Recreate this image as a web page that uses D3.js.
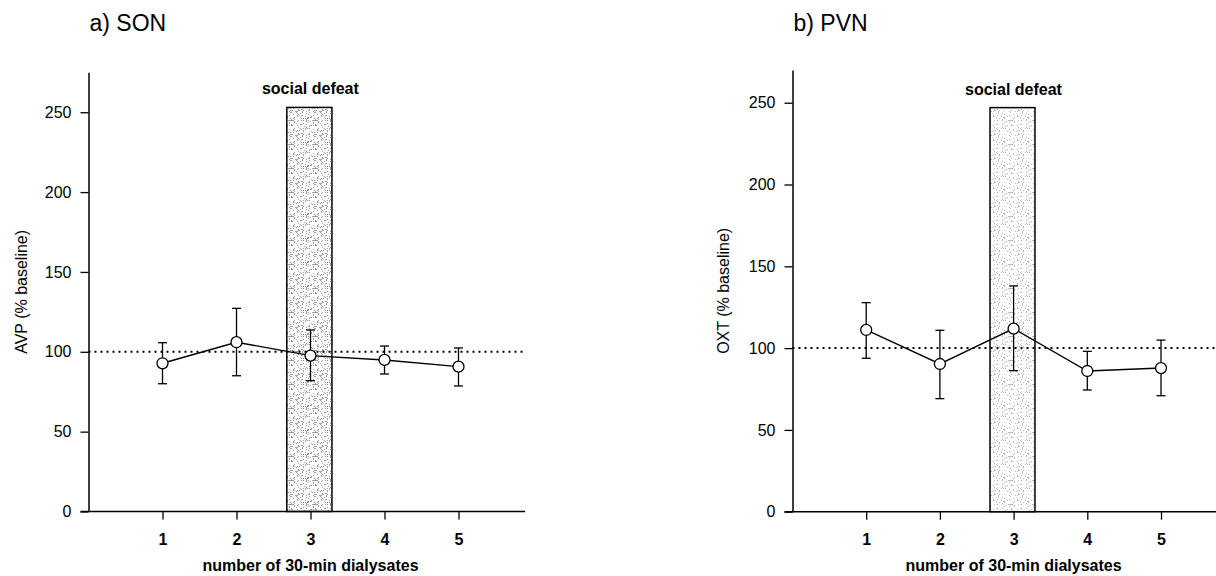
<!DOCTYPE html>
<html>
<head>
<meta charset="utf-8">
<script src="https://cdn.jsdelivr.net/npm/d3@7"></script>
<style>
  body { margin: 0; background: #fff; }
  svg { display: block; font-family: "Liberation Sans", Arial, sans-serif; }
</style>
</head>
<body>
<script>
// data
const dialysates = [1, 2, 3, 4, 5];
const avpMean = [92.8, 106.0, 97.6, 94.9, 90.7];
const avpUpper = [105.7, 127.2, 113.7, 103.6, 102.4];
const avpLower = [80.0, 85.0, 81.9, 86.1, 78.6];
const oxtMean = [111.1, 90.3, 111.9, 86.0, 87.8];
const oxtUpper = [127.8, 110.9, 138.0, 98.0, 104.9];
const oxtLower = [93.8, 69.1, 86.2, 74.4, 70.9];
const yTicks = [0, 50, 100, 150, 200, 250];
const baselineLevel = 100;
const defeatRange = [2.68, 3.29];
const defeatTop = [253, 247];
const panelTitles = ["a) SON", "b) PVN"];
const yLabels = ["AVP (% baseline)", "OXT (% baseline)"];
const xLabel = "number of 30-min dialysates";
const defeatLabel = "social defeat";

let width = 1216;
let height = 576;

let svg = d3.select("body").append("svg")
  .attr("width", width)
  .attr("height", height);

// speckled textures for the shaded "social defeat" bar
let defs = svg.append("defs");
function speckle(id, color, threshold) {
  let n = 24;
  let p = defs.append("pattern")
    .attr("id", id)
    .attr("patternUnits", "userSpaceOnUse")
    .attr("width", n)
    .attr("height", n);
  p.append("rect").attr("width", n).attr("height", n).attr("fill", "#fff");
  for (let i = 0; i < n; i++) {
    for (let j = 0; j < n; j++) {
      // simple integer hash -> irregular stipple
      let h = (i * 374761393 + j * 668265263) >>> 0;
      h = ((h ^ (h >>> 13)) * 1274126177) >>> 0;
      if ((h % 100) < threshold) {
        p.append("rect").attr("x", i).attr("y", j)
          .attr("width", 1).attr("height", 1).attr("fill", color);
      }
    }
  }
}
speckle("stip0", "#9c9c9c", 20);
speckle("stip1", "#b8b8b8", 9);

let panels = [
  { x0: 88.5, step: 74, xMax: 5.9, y0: 511.5, yTop: 72.3, yMax: 275,
    mean: avpMean, upper: avpUpper, lower: avpLower, labelX: 27 },
  { x0: 792.5, step: 73.7, xMax: 5.85, y0: 511.7, yTop: 70, yMax: 270,
    mean: oxtMean, upper: oxtUpper, lower: oxtLower, labelX: 729 }
];

panels.forEach((cfg, k) => {
  let g = svg.append("g");

  let x = d3.scaleLinear()
    .domain([0, cfg.xMax])
    .range([cfg.x0, cfg.x0 + cfg.xMax * cfg.step]);
  let y = d3.scaleLinear()
    .domain([0, cfg.yMax])
    .range([cfg.y0, cfg.yTop]);

  // title
  g.append("text")
    .attr("x", cfg.x0 + 1)
    .attr("y", 31)
    .attr("font-size", "23px")
    .text(panelTitles[k]);

  // social defeat bar
  g.append("rect")
    .attr("x", x(defeatRange[0]))
    .attr("y", y(defeatTop[k]))
    .attr("width", x(defeatRange[1]) - x(defeatRange[0]))
    .attr("height", y(0) - y(defeatTop[k]))
    .attr("fill", "url(#stip" + k + ")")
    .attr("stroke", "#000")
    .attr("stroke-width", 1.5);

  g.append("text")
    .attr("x", x((defeatRange[0] + defeatRange[1]) / 2) + 1)
    .attr("y", y(defeatTop[k]) - 13)
    .attr("text-anchor", "middle")
    .attr("font-size", "16px")
    .attr("font-weight", "bold")
    .text(defeatLabel);

  // dotted baseline at 100 %
  g.append("line")
    .attr("x1", x(0))
    .attr("x2", x(cfg.xMax))
    .attr("y1", y(baselineLevel))
    .attr("y2", y(baselineLevel))
    .attr("stroke", "#000")
    .attr("stroke-width", 2)
    .attr("stroke-dasharray", "2,4");

  // y axis
  let yAxis = d3.axisLeft(y)
    .tickValues(yTicks)
    .tickSize(8)
    .tickSizeOuter(0)
    .tickPadding(9);
  let ya = g.append("g")
    .attr("transform", "translate(" + cfg.x0 + ",0)")
    .call(yAxis);
  ya.select(".domain").attr("stroke-width", 1.5);
  ya.selectAll(".tick line").attr("stroke-width", 1.3);
  ya.selectAll(".tick text")
    .attr("font-size", "16px")
    .attr("font-family", "Liberation Sans, Arial, sans-serif")
    .attr("fill", "#000");

  // x axis
  let xAxis = d3.axisBottom(x)
    .tickValues(dialysates)
    .tickFormat(d3.format("d"))
    .tickSize(8)
    .tickSizeOuter(0)
    .tickPadding(14);
  let xa = g.append("g")
    .attr("transform", "translate(0," + cfg.y0 + ")")
    .call(xAxis);
  xa.select(".domain")
    .attr("d", "M" + (cfg.x0 - 8) + ",0H" + x(cfg.xMax))
    .attr("stroke-width", 1.5);
  xa.selectAll(".tick line").attr("stroke-width", 1.3);
  xa.selectAll(".tick text")
    .attr("font-size", "16px")
    .attr("font-weight", "bold")
    .attr("font-family", "Liberation Sans, Arial, sans-serif")
    .attr("fill", "#000");

  // axis titles
  g.append("text")
    .attr("x", x(3))
    .attr("y", 571)
    .attr("text-anchor", "middle")
    .attr("font-size", "16px")
    .attr("font-weight", "bold")
    .text(xLabel);

  g.append("text")
    .attr("transform", "translate(" + cfg.labelX + "," + (y(0) + y(cfg.yMax)) / 2 + ") rotate(-90)")
    .attr("text-anchor", "middle")
    .attr("font-size", "16px")
    .text(yLabels[k]);

  let pts = dialysates.map((d, i) => ({
    x: d, m: cfg.mean[i], hi: cfg.upper[i], lo: cfg.lower[i]
  }));

  // error bars
  let eb = g.selectAll(".err").data(pts).enter().append("g").attr("class", "err");
  eb.append("line")
    .attr("x1", d => x(d.x)).attr("x2", d => x(d.x))
    .attr("y1", d => y(d.hi)).attr("y2", d => y(d.lo))
    .attr("stroke", "#000").attr("stroke-width", 1.3);
  eb.append("line")
    .attr("x1", d => x(d.x) - 4.5).attr("x2", d => x(d.x) + 4.5)
    .attr("y1", d => y(d.hi)).attr("y2", d => y(d.hi))
    .attr("stroke", "#000").attr("stroke-width", 1.3);
  eb.append("line")
    .attr("x1", d => x(d.x) - 4.5).attr("x2", d => x(d.x) + 4.5)
    .attr("y1", d => y(d.lo)).attr("y2", d => y(d.lo))
    .attr("stroke", "#000").attr("stroke-width", 1.3);

  // mean line
  g.append("path")
    .datum(pts)
    .attr("d", d3.line().x(d => x(d.x)).y(d => y(d.m)))
    .attr("fill", "none")
    .attr("stroke", "#000")
    .attr("stroke-width", 1.4);

  // markers
  g.selectAll(".pt").data(pts).enter().append("circle")
    .attr("class", "pt")
    .attr("cx", d => x(d.x))
    .attr("cy", d => y(d.m))
    .attr("r", 5.5)
    .attr("fill", "#fff")
    .attr("stroke", "#000")
    .attr("stroke-width", 1.3);
});
</script>
</body>
</html>
